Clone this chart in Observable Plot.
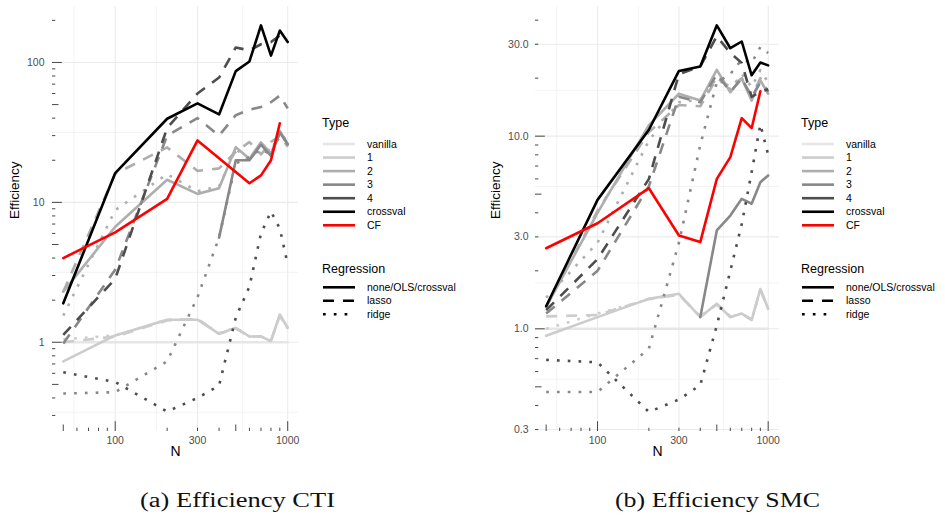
<!DOCTYPE html>
<html>
<head>
<meta charset="utf-8">
<script src="https://cdn.jsdelivr.net/npm/d3@7"></script>
<script src="https://cdn.jsdelivr.net/npm/@observablehq/plot@0.6"></script>
<style>
  html, body { margin: 0; padding: 0; background: #fff; }
  body { width: 945px; height: 515px; position: relative; overflow: hidden; font-family: "Liberation Sans", Arial, sans-serif; }
  .panel { position: absolute; top: 0; }
  .panel svg { display: block; }
  .overlay { position: absolute; left: 0; top: 0; pointer-events: none; }
</style>
</head>
<body>
<div id="pa" class="panel" style="left:0px"></div>
<div id="pb" class="panel" style="left:472px"></div>
<script>
// ---------------- data ----------------
const N = [50, 100, 200, 300, 400, 500, 600, 700, 800, 900, 1000];

const typeLevels = ["vanilla", "1", "2", "3", "4", "crossval", "CF"];
const typeColors = ["#e6e6e6", "#cccccc", "#aeaeae", "#888888", "#4d4d4d", "#000000", "#ff0000"];
const regLevels = ["none/OLS/crossval", "lasso", "ridge"];
const regDash = [null, "11,9", "2.7,8.1"];

// (a) Efficiency CTI
const ctiVanilla   = [1, 1, 1, 1, 1, 1, 1, 1, 1, 1, 1];
const ctiT1None    = [0.73, 1.12, 1.45, 1.45, 1.15, 1.27, 1.10, 1.10, 1.02, 1.58, 1.27];
const ctiT1Lasso   = [1.00, 1.10, 1.43, 1.47, 1.15, 1.25, 1.10, 1.10, 1.03, 1.55, 1.25];
const ctiT1Ridge   = [1.05, 1.12, 1.45, 1.46, 1.16, 1.27, 1.10, 1.10, 1.02, 1.57, 1.26];
const ctiT2None    = [2.3, 6.7, 14.5, 11.5, 12.6, 24.8, 20.5, 26.9, 22.3, 32.4, 26.2];
const ctiT2Lasso   = [2.3, 16.0, 24.7, 16.8, 17.5, 23.0, 27.0, 22.0, 27.0, 30.0, 25.0];
const ctiT2Ridge   = [1.55, 8.8, 15.9, 12.0, 13.0, 24.0, 20.0, 26.0, 23.0, 32.0, 27.0];
const ctiT3None    = [null, null, null, null, 5.6, 20.0, 20.0, 25.9, 21.5, 31.6, 26.0];
const ctiT3Lasso   = [0.98, 3.3, 30.0, 40.0, 30.0, 42.0, 46.0, 48.0, 52.0, 58.0, 47.0];
const ctiT3Ridge   = [0.43, 0.44, 0.73, 2.1, 5.6, 19.0, 21.0, 24.0, 22.0, 30.0, 27.0];
const ctiT4Lasso   = [1.13, 2.84, 34.0, 60.0, 78.0, 128.0, 122.0, 135.0, 140.0, 156.0, 147.0];
const ctiT4Ridge   = [0.61, 0.52, 0.32, 0.40, 0.49, 1.5, 2.5, 6.0, 8.6, 6.5, 3.6];
const ctiCrossval  = [1.9, 16.2, 39.6, 51.0, 42.5, 86.7, 101.7, 184.0, 112.0, 169.0, 140.0];
const ctiCF        = [4.0, 6.1, 10.6, 27.7, 20.7, 16.5, 13.7, 15.6, 20.0, 36.8, null];

// (b) Efficiency SMC
const smcVanilla   = [1, 1, 1, 1, 1, 1, 1, 1, 1, 1, 1];
const smcT1None    = [0.92, 1.15, 1.43, 1.52, 1.15, 1.35, 1.15, 1.20, 1.11, 1.61, 1.27];
const smcT1Lasso   = [1.16, 1.18, 1.43, 1.50, 1.16, 1.34, 1.15, 1.20, 1.12, 1.60, 1.26];
const smcT1Ridge   = [1.00, 1.20, 1.42, 1.51, 1.15, 1.35, 1.16, 1.20, 1.11, 1.60, 1.27];
const smcT2None    = [1.30, 4.0, 11.4, 16.6, 15.3, 22.1, 16.9, 19.9, 15.3, 19.5, 16.6];
const smcT2Lasso   = [1.30, 4.1, 10.5, 14.5, 14.3, 20.0, 18.0, 20.0, 16.0, 20.0, 17.0];
const smcT2Ridge   = [1.45, 2.8, 9.5, 15.0, 15.5, 20.0, 17.5, 21.0, 18.0, 22.0, 19.0];
const smcT3None    = [null, null, null, null, 1.15, 3.24, 3.87, 4.73, 4.46, 5.77, 6.25];
const smcT3Lasso   = [1.20, 2.0, 5.5, 16.0, 15.0, 21.0, 17.0, 20.0, 16.0, 19.0, 17.0];
const smcT3Ridge   = [0.47, 0.47, 0.79, 2.8, 9.0, 19.0, 21.0, 25.0, 24.0, 29.0, 27.0];
const smcT4Lasso   = [1.25, 2.3, 6.0, 21.0, 23.0, 33.0, 27.0, 24.0, 16.0, 17.0, 17.5];
const smcT4Ridge   = [0.69, 0.67, 0.37, 0.43, 0.51, 1.04, 2.0, 3.5, 6.5, 11.5, 8.0];
const smcCrossval  = [1.31, 4.67, 10.8, 21.8, 23.0, 37.6, 28.6, 31.0, 20.7, 24.1, 23.3];
const smcCF        = [2.62, 3.53, 5.37, 3.05, 2.82, 6.0, 7.78, 12.4, 11.0, 17.1, null];

// axis breaks / gridlines / log ticks
const xLabelTicks = [100, 300, 1000];
const xMajorGrid = [100, 300, 1000];
const xMinorGrid = [57.7, 173.2, 547.7];
const xLongTicks = [100, 1000];
const xMidTicks = [50, 500];
const xShortTicks = [60, 70, 80, 90, 200, 300, 400, 600, 700, 800, 900];

const ctiYLabels = [1, 10, 100];
const ctiYMajorGrid = [1, 10, 100];
const ctiYMinorGrid = [0.316, 3.16, 31.6];
const ctiYLong = [1, 10, 100];
const ctiYMid = [0.5, 5, 50];
const ctiYShort = [0.3, 0.4, 0.6, 0.7, 0.8, 0.9, 2, 3, 4, 6, 7, 8, 9, 20, 30, 40, 60, 70, 80, 90, 200];

const smcYLabels = [0.3, 1, 3, 10, 30];
const smcYMajorGrid = [0.3, 1, 3, 10, 30];
const smcYMinorGrid = [0.548, 1.73, 5.48, 17.3];
const smcYLong = [1, 10];
const smcYMid = [0.5, 5];
const smcYShort = [0.3, 0.4, 0.6, 0.7, 0.8, 0.9, 2, 3, 4, 6, 7, 8, 9, 20, 30, 40];

const ctiSeries = [
  ["vanilla", "none/OLS/crossval", ctiVanilla],
  ["1", "ridge", ctiT1Ridge], ["1", "lasso", ctiT1Lasso], ["1", "none/OLS/crossval", ctiT1None],
  ["2", "ridge", ctiT2Ridge], ["2", "lasso", ctiT2Lasso], ["2", "none/OLS/crossval", ctiT2None],
  ["3", "ridge", ctiT3Ridge], ["3", "lasso", ctiT3Lasso], ["3", "none/OLS/crossval", ctiT3None],
  ["4", "ridge", ctiT4Ridge], ["4", "lasso", ctiT4Lasso],
  ["crossval", "none/OLS/crossval", ctiCrossval],
  ["CF", "none/OLS/crossval", ctiCF]
];
const smcSeries = [
  ["vanilla", "none/OLS/crossval", smcVanilla],
  ["1", "ridge", smcT1Ridge], ["1", "lasso", smcT1Lasso], ["1", "none/OLS/crossval", smcT1None],
  ["2", "ridge", smcT2Ridge], ["2", "lasso", smcT2Lasso], ["2", "none/OLS/crossval", smcT2None],
  ["3", "ridge", smcT3Ridge], ["3", "lasso", smcT3Lasso], ["3", "none/OLS/crossval", smcT3None],
  ["4", "ridge", smcT4Ridge], ["4", "lasso", smcT4Lasso],
  ["crossval", "none/OLS/crossval", smcCrossval],
  ["CF", "none/OLS/crossval", smcCF]
];

// ---------------- drawing ----------------
const TICK_COLOR = "#333333";
function logTicksY(vals, len) {
  return Plot.axisY({ticks: vals, anchor: "left", tickSize: len, dx: len, tickFormat: () => "", stroke: TICK_COLOR, strokeWidth: 0.9, label: null});
}
function logTicksX(vals, len) {
  return Plot.axisX({ticks: vals, anchor: "bottom", tickSize: len, dy: -len, tickFormat: () => "", stroke: TICK_COLOR, strokeWidth: 0.9, label: null});
}

function makePanel(cfg) {
  const rows = [];
  cfg.series.forEach(([type, reg, vals], id) => {
    vals.forEach((v, j) => rows.push({id, type, reg, N: N[j], value: v}));
  });
  const lineMarks = cfg.series.map(([type, reg], id) => {
    const ri = regLevels.indexOf(reg);
    return Plot.line(rows.filter(r => r.id === id), {
      x: "N", y: "value",
      stroke: typeColors[typeLevels.indexOf(type)],
      strokeWidth: 2.6,
      strokeDasharray: regDash[ri] || undefined,
      strokeLinecap: ri === 0 ? "round" : "butt",
      strokeLinejoin: "round"
    });
  });
  return Plot.plot({
    width: cfg.width, height: 470,
    marginLeft: cfg.ml, marginRight: cfg.mr, marginTop: 6, marginBottom: 39,
    x: {type: "log", domain: cfg.xDomain},
    y: {type: "log", domain: cfg.yDomain},
    style: {fontFamily: "'Liberation Sans', Arial, sans-serif", fontSize: "10.5px", background: "white", overflow: "visible"},
    marks: [
      Plot.ruleX(xMinorGrid, {stroke: "#ebebeb", strokeWidth: 0.6}),
      Plot.ruleY(cfg.yMinor, {stroke: "#ebebeb", strokeWidth: 0.6}),
      Plot.ruleX(xMajorGrid, {stroke: "#ebebeb", strokeWidth: 1.1}),
      Plot.ruleY(cfg.yMajor, {stroke: "#ebebeb", strokeWidth: 1.1}),
      logTicksY(cfg.yShort, 3.3), logTicksY(cfg.yMid, 6.5), logTicksY(cfg.yLong, 9.8),
      logTicksX(xShortTicks, 3.3), logTicksX(xMidTicks, 6.5), logTicksX(xLongTicks, 9.8),
      Plot.axisX({ticks: xLabelTicks, anchor: "bottom", tickSize: 0, tickPadding: 5, tickFormat: d => String(d), color: "#4d4d4d", label: null}),
      Plot.axisY({ticks: cfg.yLabels, anchor: "left", tickSize: 0, tickPadding: cfg.ypad, tickFormat: cfg.fmt, color: "#4d4d4d", label: null}),
      ...lineMarks,
      Plot.text(["N"], {text: d => d, frameAnchor: "bottom", dy: 24, fontSize: 14, fill: "black"}),
      Plot.text(["Efficiency"], {text: d => d, frameAnchor: "left", dx: cfg.titleDx, rotate: -90, fontSize: 13.5, fill: "black"})
    ]
  });
}

document.getElementById("pa").appendChild(makePanel({
  series: ctiSeries, width: 472, ml: 52, mr: 174,
  xDomain: [43.3, 1155], yDomain: [0.2303, 251.2],
  yMajor: ctiYMajorGrid, yMinor: ctiYMinorGrid,
  yLong: ctiYLong, yMid: ctiYMid, yShort: ctiYShort,
  yLabels: ctiYLabels, fmt: d => String(d), ypad: 8, titleDx: -38
}));
document.getElementById("pb").appendChild(makePanel({
  series: smcSeries, width: 473, ml: 63, mr: 166,
  xDomain: [43.3, 1165], yDomain: [0.2931, 47.1],
  yMajor: smcYMajorGrid, yMinor: smcYMinorGrid,
  yLong: smcYLong, yMid: smcYMid, yShort: smcYShort,
  yLabels: smcYLabels, fmt: d3.format(".1f"), ypad: 7, titleDx: -40
}));

// ---------------- legends & captions ----------------
const overlay = d3.select("body").append("svg")
  .attr("class", "overlay").attr("width", 945).attr("height", 515)
  .style("font-family", "'Liberation Sans', Arial, sans-serif");

function drawLegend(x0) {
  const g = overlay.append("g");
  g.append("text").attr("x", x0).attr("y", 127).attr("font-size", 12.5).attr("fill", "black").text("Type");
  typeLevels.forEach((t, i) => {
    const y = 144 + i * 13.55;
    g.append("line").attr("x1", x0 + 1).attr("x2", x0 + 33).attr("y1", y).attr("y2", y)
      .attr("stroke", typeColors[i]).attr("stroke-width", 2.6);
    g.append("text").attr("x", x0 + 45).attr("y", y).attr("dy", "0.35em")
      .attr("font-size", 10.5).attr("fill", "black").text(t);
  });
  g.append("text").attr("x", x0).attr("y", 273).attr("font-size", 12.5).attr("fill", "black").text("Regression");
  regLevels.forEach((r, i) => {
    const y = 287.3 + i * 13.5;
    g.append("line").attr("x1", x0 + 1).attr("x2", x0 + 33).attr("y1", y).attr("y2", y)
      .attr("stroke", "black").attr("stroke-width", 2.6)
      .attr("stroke-dasharray", regDash[i])
      .attr("stroke-linecap", "butt");
    g.append("text").attr("x", x0 + 45).attr("y", y).attr("dy", "0.35em")
      .attr("font-size", 10.5).attr("fill", "black").text(r);
  });
}
drawLegend(322);
drawLegend(801);

const captions = [["(a) Efficiency CTI", 237.5, 195], ["(b) Efficiency SMC", 717.5, 205]];
captions.forEach(([txt, cx, w]) => {
  overlay.append("text").attr("x", cx - w / 2).attr("y", 506.7)
    .attr("font-family", "'Liberation Serif', 'DejaVu Serif', serif")
    .attr("font-size", 20.5).attr("fill", "#111")
    .attr("textLength", w).attr("lengthAdjust", "spacingAndGlyphs")
    .text(txt);
});
</script>
</body>
</html>
